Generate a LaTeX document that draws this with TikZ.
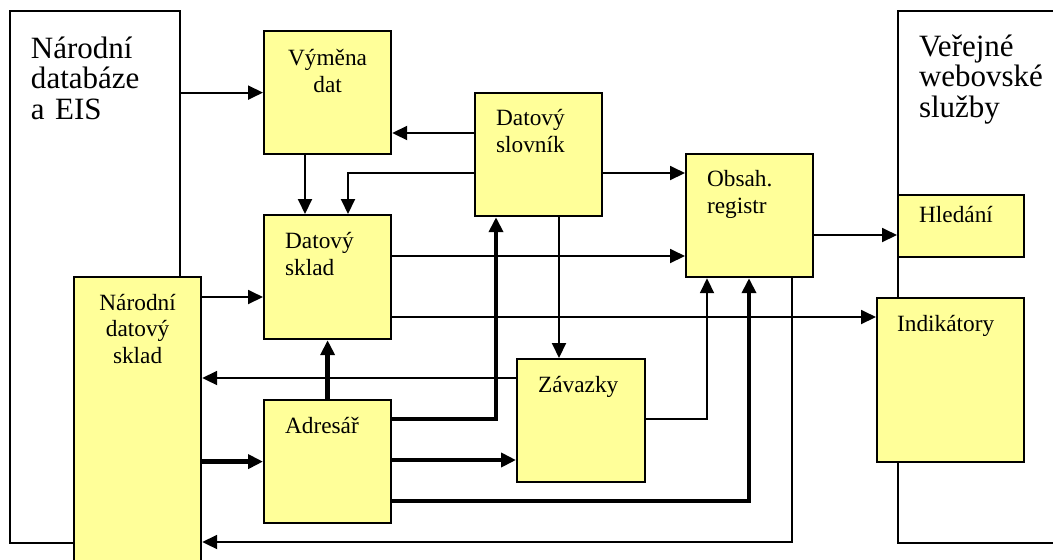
\documentclass[tikz,border=0pt]{standalone}
\usepackage{fontspec}
\setmainfont{Liberation Serif}
\newfontfamily\patkove{Liberation Serif}
\usetikzlibrary{arrows.meta}
\definecolor{boxyellow}{HTML}{FFFF99}
\newcommand{\velkepismo}{\patkove\fontsize{15.5}{15.25}\selectfont}
\newcommand{\malepismo}{\patkove\fontsize{11.65}{13.5}\selectfont}

\begin{document}
\begin{tikzpicture}[x=0.5pt, y=-0.5pt,
  ramec/.style={draw, line width=1pt, anchor=north west, inner ysep=0pt, inner xsep=10.5pt, align=left, font=\velkepismo},
  blok/.style={draw, line width=1.1pt, fill=boxyellow, anchor=north west, inner ysep=0pt, inner xsep=10.5pt, align=left, font=\malepismo},
  sipka/.style={-{Triangle[length=7.5pt,width=7pt]}, line width=0.95pt},
  tlusta/.style={sipka, line width=2.4pt}]
\useasboundingbox (0,0) rectangle (1053,559);
% velke ramce
\node[ramec, text width=64pt, text height=23.5pt, text depth=242.5pt] (eis) at (9,10) {Národní\\databáze\\a EIS};
\node[ramec, text width=61.5pt, text height=22.5pt, text depth=243.5pt] (web) at (897,10) {Veřejné\\webovské\\služby};
% bloky
\node[blok, align=center, text width=42.5pt, text height=16.5pt, text depth=130.5pt, font=\patkove\fontsize{11.65}{13.3}\selectfont] (nds) at (73,276) {Národní\\datový\\sklad};
\node[blok, align=center, text width=42.5pt, text height=17pt, text depth=44.5pt] (vymena) at (263,30) {Výměna\\dat};
\node[blok, text width=42.5pt, text height=16.5pt, text depth=45.5pt] (dsklad) at (263,214) {Datový\\sklad};
\node[blok, text width=42.5pt, text height=16.5pt, text depth=45pt] (adresar) at (263,399) {Adresář};
\node[blok, text width=42.5pt, text height=16pt, text depth=45.5pt] (slovnik) at (474,92) {Datový\\slovník};
\node[blok, text width=43pt, text height=16.5pt, text depth=45pt] (zavazky) at (516,358) {Závazky};
\node[blok, text width=42.5pt, text height=16pt, text depth=45.5pt] (registr) at (685,153) {Obsah.\\registr};
\node[blok, text width=42pt, text height=13.5pt, text depth=17.5pt] (hledani) at (897,194) {Hledání};
\node[blok, inner xsep=10pt, text width=53.5pt, text height=16.5pt, text depth=65.5pt] (indikatory) at (876,297) {Indikátory};
% tenke spoje
\draw[sipka] (eis.east |- vymena.west) -- (vymena.west);
\draw[sipka] (slovnik.west |- 0,133) -- (vymena.east |- 0,133);
\draw[sipka] (vymena.south -| 305,0) -- (dsklad.north -| 305,0);
\draw[sipka] (slovnik.west |- 0,173) -| (dsklad.north -| 348,0);
\draw[sipka] (slovnik.east |- 0,173) -- (registr.west |- 0,173);
\draw[sipka] (dsklad.east |- 0,256) -- (registr.west |- 0,256);
\draw[sipka] (dsklad.east |- 0,317) -- (indikatory.west |- 0,317);
\draw[sipka] (registr.east |- 0,235) -- (hledani.west |- 0,235);
\draw[sipka] (nds.east |- 0,297) -- (dsklad.west |- 0,297);
\draw[sipka] (slovnik.south -| 559,0) -- (zavazky.north -| 559,0);
\draw[sipka] (zavazky.west |- 0,378) -- (nds.east |- 0,378);
\draw[sipka] (zavazky.east |- 0,419) -| (registr.south -| 707,0);
\draw[sipka] (registr.south -| 792,0) |- (nds.east |- 0,542);
% tlusta spojeni z adresare
\draw[tlusta] (nds.east |- adresar.west) -- (adresar.west);
\draw[tlusta] (adresar.north) -- (dsklad.south);
\draw[tlusta] (adresar.east |- 0,419) -| (slovnik.south -| 496,0);
\draw[tlusta] (adresar.east |- 0,460) -- (zavazky.west |- 0,460);
\draw[tlusta] (adresar.east |- 0,501) -| (registr.south -| 749,0);
\end{tikzpicture}
\end{document}
